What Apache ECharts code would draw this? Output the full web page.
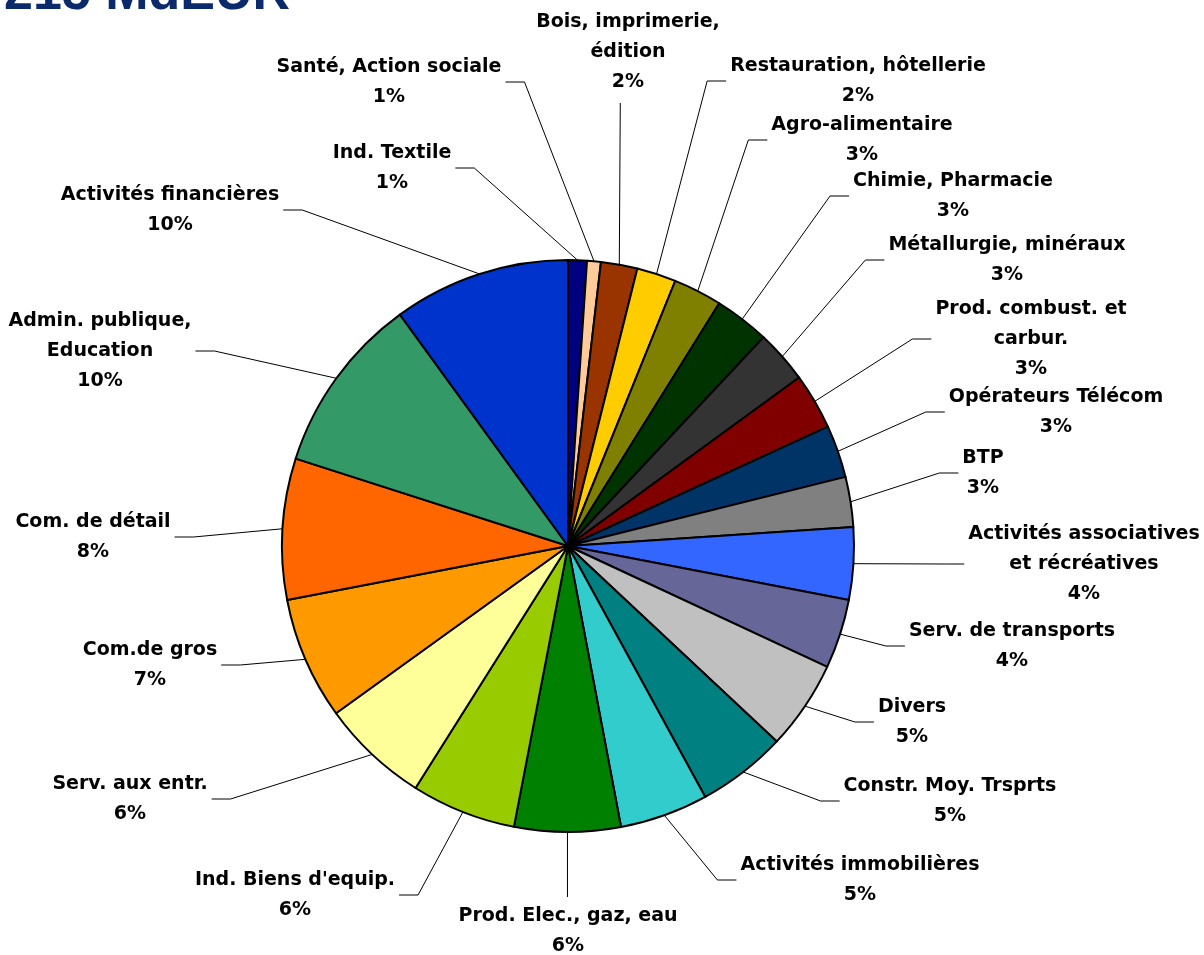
<!DOCTYPE html>
<html>
<head>
<meta charset="utf-8">
<title>215 MdEUR</title>
<script src="https://cdn.jsdelivr.net/npm/echarts@6/dist/echarts.min.js"></script>
<style>
    html, body { margin: 0; padding: 0; background: #fff; }
    #myChart { width: 1204px; height: 955px; }
</style>
</head>
<body>
<div id="myChart"></div>
<script>
    // sectors, clockwise from 12 o'clock
    var sectors = [
        'Ind. Textile', 'Santé, Action sociale', 'Bois, imprimerie,\nédition',
        'Restauration, hôtellerie', 'Agro-alimentaire', 'Chimie, Pharmacie',
        'Métallurgie, minéraux', 'Prod. combust. et\ncarbur.', 'Opérateurs Télécom',
        'BTP', 'Activités associatives\net récréatives', 'Serv. de transports',
        'Divers', 'Constr. Moy. Trsprts', 'Activités immobilières',
        'Prod. Elec., gaz, eau', "Ind. Biens d'equip.", 'Serv. aux entr.',
        'Com.de gros', 'Com. de détail', 'Admin. publique,\nEducation', 'Activités financières'
    ];
    // share of total (%)
    var shares = [
        1.06, 0.78, 2.06, 2.22, 2.75, 3.11, 3.0, 3.17, 2.97, 2.83, 4.08,
        3.92, 5.03, 5.06, 5.0, 6.0, 5.92, 6.11, 6.92, 7.97, 10.06, 10.0
    ];
    var colors = [
        '#000080', '#FFCC99', '#993300', '#FFCC00', '#808000', '#003300',
        '#333333', '#800000', '#003366', '#808080', '#3366FF', '#666699',
        '#C0C0C0', '#008080', '#33CCCC', '#008000', '#99CC00', '#FFFF99',
        '#FF9900', '#FF6600', '#339966', '#0033CC'
    ];

    // label layout (centre of each label block) and which side the leader leaves from
    var labelPos = [
        [392, 168], [389, 82], [628, 52], [858, 81], [862, 140], [953, 196],
        [1007, 260], [1031, 339], [1056, 412], [983, 473], [1084, 564],
        [1012, 646], [912, 722], [950, 801], [860, 880], [568, 931],
        [295, 895], [130, 799], [150, 665], [93, 537], [100, 351], [170, 210]
    ];
    var labelSide = [
        'r', 'r', 'b', 'l', 'l', 'l', 'l', 'l', 'l', 'l', 'l',
        'l', 'l', 'l', 'l', 't', 'r', 'r', 'r', 'r', 'r', 'r'
    ];

    var myChart = echarts.init(document.getElementById('myChart'));
    myChart.setOption({
        animation: false,
        graphic: [{
            type: 'text',
            x: 4,
            y: -5,
            style: {
                text: '215 MdEUR',
                fontFamily: 'Liberation Sans',
                fontWeight: 'bold',
                fontSize: 52,
                fill: '#0A2A6C',
                verticalAlign: 'middle',
                textShadowColor: '#B8B8B8',
                textShadowOffsetX: 3,
                textShadowOffsetY: 3,
                textShadowBlur: 0,
                shadowColor: '#B8B8B8',
                shadowOffsetX: 3,
                shadowOffsetY: 3,
                shadowBlur: 0
            }
        }],
        series: [{
            type: 'pie',
            center: [568, 546],
            radius: 286,
            startAngle: 90,
            clockwise: true,
            avoidLabelOverlap: false,
            data: sectors.map(function (name, i) {
                return { name: name, value: shares[i], itemStyle: { color: colors[i] } };
            }),
            itemStyle: {
                borderColor: '#000',
                borderWidth: 2
            },
            label: {
                show: true,
                position: 'outside',
                fontFamily: '"DejaVu Sans", sans-serif',
                fontWeight: 'bold',
                fontSize: 19,
                lineHeight: 30,
                color: '#000',
                align: 'center',
                formatter: function (p) {
                    return p.name + '\n' + Math.round(p.percent) + '%';
                }
            },
            labelLine: {
                show: true,
                length: 10,
                length2: 10,
                lineStyle: { color: '#000', width: 1 }
            },
            labelLayout: function (p) {
                var i = p.dataIndex;
                var pos = labelPos[i];
                var w = p.labelRect.width;
                var h = p.labelRect.height;
                var anchor = p.labelLinePoints ? p.labelLinePoints[0] : [568, 546];
                var pts;
                if (labelSide[i] === 'r') {
                    var ax = pos[0] + w / 2 + 4;
                    pts = [anchor, [ax + 19, pos[1]], [ax, pos[1]]];
                } else if (labelSide[i] === 'l') {
                    var lx = pos[0] - w / 2 - 4;
                    pts = [anchor, [lx - 19, pos[1]], [lx, pos[1]]];
                } else if (labelSide[i] === 'b') {
                    var by = pos[1] + h / 2 + 6;
                    pts = [anchor, [anchor[0] + 1, by], [anchor[0] + 1, by]];
                } else {
                    var ty = pos[1] - h / 2 - 4;
                    pts = [anchor, [anchor[0], ty], [anchor[0], ty]];
                }
                return {
                    x: pos[0],
                    y: pos[1],
                    align: 'center',
                    verticalAlign: 'middle',
                    labelLinePoints: pts
                };
            }
        }]
    });
</script>
</body>
</html>
